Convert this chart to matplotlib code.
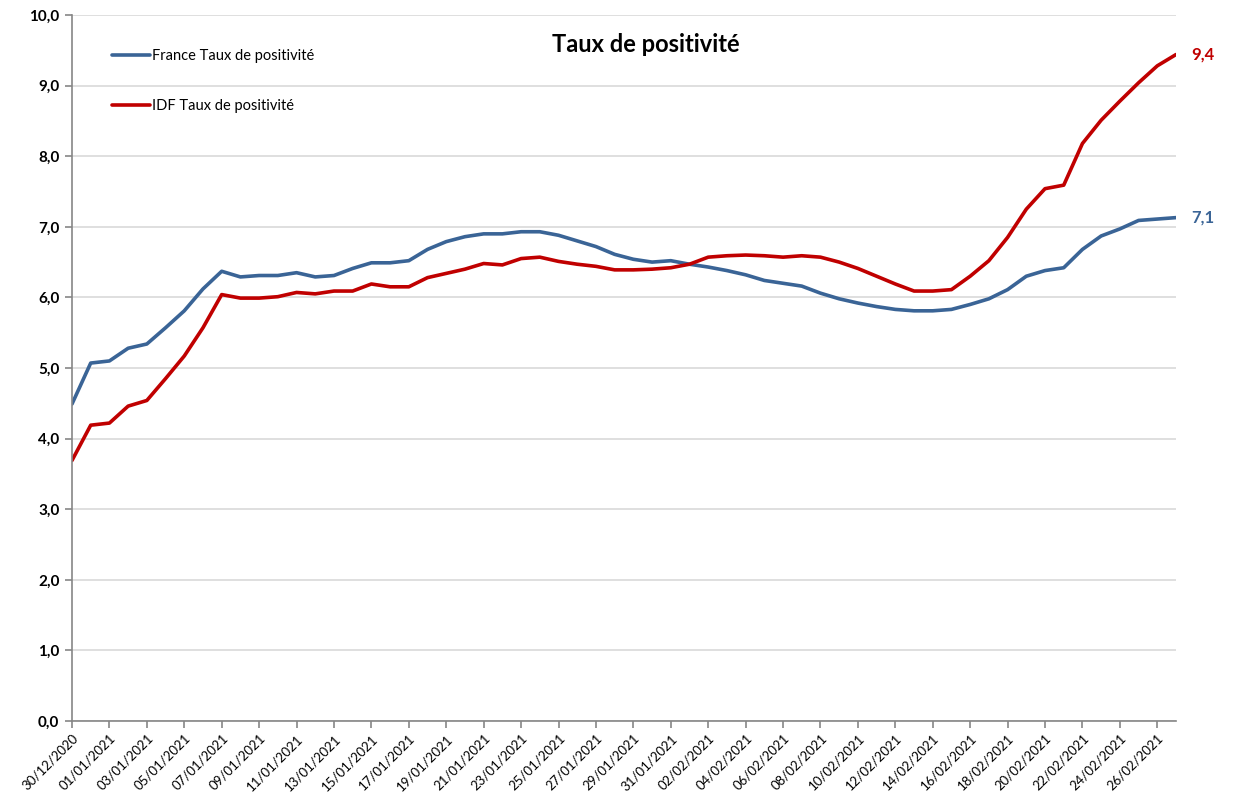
import matplotlib
matplotlib.use("Agg")
import matplotlib.pyplot as plt
import pandas as pd
from matplotlib.ticker import FuncFormatter, MultipleLocator

dates = pd.date_range("2020-12-30", "2021-02-27", freq="D")
date_labels = [d.strftime("%d/%m/%Y") for d in dates]

france = [4.49, 5.07, 5.10, 5.28, 5.34, 5.57, 5.81, 6.12, 6.37, 6.29,
          6.31, 6.31, 6.35, 6.29, 6.31, 6.41, 6.49, 6.49, 6.52, 6.68,
          6.79, 6.86, 6.90, 6.90, 6.93, 6.93, 6.88, 6.80, 6.72, 6.61,
          6.54, 6.50, 6.52, 6.47, 6.43, 6.38, 6.32, 6.24, 6.20, 6.16,
          6.06, 5.98, 5.92, 5.87, 5.83, 5.81, 5.81, 5.83, 5.90, 5.98,
          6.11, 6.30, 6.38, 6.42, 6.68, 6.87, 6.97, 7.09, 7.11, 7.13]
idf = [3.69, 4.19, 4.22, 4.46, 4.54, 4.85, 5.17, 5.57, 6.04, 5.99,
       5.99, 6.01, 6.07, 6.05, 6.09, 6.09, 6.19, 6.15, 6.15, 6.28,
       6.34, 6.40, 6.48, 6.46, 6.55, 6.57, 6.51, 6.47, 6.44, 6.39,
       6.39, 6.40, 6.42, 6.47, 6.57, 6.59, 6.60, 6.59, 6.57, 6.59,
       6.57, 6.50, 6.41, 6.30, 6.19, 6.09, 6.09, 6.11, 6.30, 6.52,
       6.85, 7.25, 7.54, 7.59, 8.18, 8.51, 8.78, 9.04, 9.28, 9.44]

series_names = ["France Taux de positivité", "IDF Taux de positivité"]
colors = ["#3A6496", "#C00000"]
end_labels = ["7,1", "9,4"]

plt.rcParams["font.family"] = ["Lato", "DejaVu Sans"]

fig = plt.figure(figsize=(12.39, 7.97), dpi=100)
ax = fig.add_axes([72/1239, 1-721/797, (1176-72)/1239, (721-15)/797])

x = list(range(len(dates)))
for vals, name, c, lab in zip([france, idf], series_names, colors, end_labels):
    ax.plot(x, vals, color=c, lw=2.6, label=name, solid_capstyle="round")
    ax.annotate(lab, (x[-1], vals[-1]), xytext=(11, 0), textcoords="offset points",
                color=c, fontsize=12, fontweight="bold", va="center", ha="left",
                annotation_clip=False)

ax.set_xlim(0, len(dates) - 1)
ax.set_ylim(0, 10)
ax.yaxis.set_major_locator(MultipleLocator(1))
ax.yaxis.set_major_formatter(FuncFormatter(lambda v, p: f"{v:.1f}".replace(".", ",")))
ax.grid(axis="y", color="#D9D9D9", lw=1.2)
ax.set_axisbelow(True)

tick_pos = x[::2]
ax.set_xticks(tick_pos)
ax.set_xticklabels([date_labels[i] for i in tick_pos], rotation=45, ha="right",
                   rotation_mode="anchor", fontsize=9.5)
for lbl in ax.get_yticklabels():
    lbl.set_fontweight("bold")
    lbl.set_fontsize(11)

for s in ["top", "right"]:
    ax.spines[s].set_visible(False)
for s in ["left", "bottom"]:
    ax.spines[s].set_color("#868686")
    ax.spines[s].set_linewidth(1.2)
ax.tick_params(axis="both", color="#868686", length=5, width=1.2)
ax.tick_params(axis="x", pad=3)
ax.tick_params(axis="y", pad=4)

fig.text(646/1239, 1-45/797, "Taux de positivité", fontsize=17, fontweight="bold",
         ha="center", va="center")

leg = ax.legend(loc="upper left", bbox_to_anchor=(0.0246, 0.970), frameon=False,
                fontsize=10.5, handlelength=2.6, handletextpad=0.1, labelspacing=2.45,
                borderaxespad=0.5)

fig.savefig("out.png", dpi=100, facecolor="white")
